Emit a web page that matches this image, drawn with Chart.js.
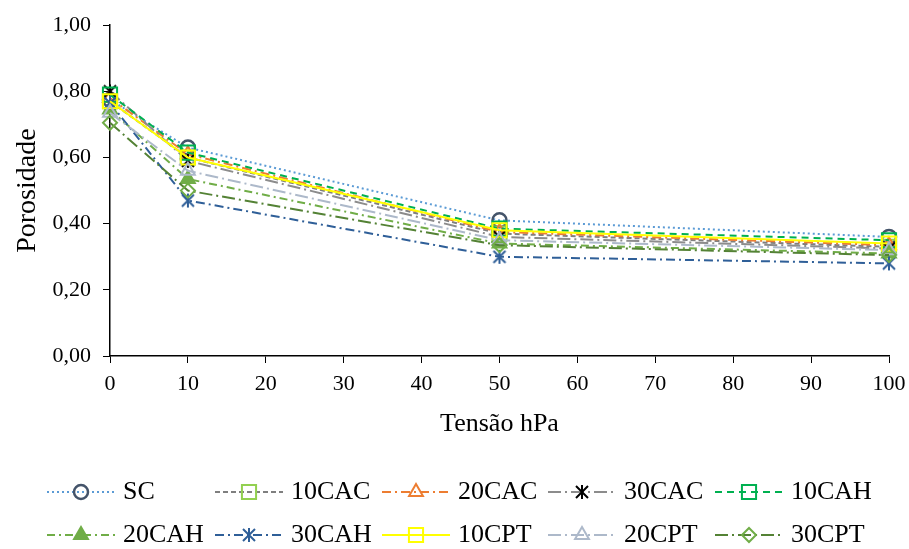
<!DOCTYPE html>
<html>
<head>
<meta charset="utf-8">
<script src="https://cdn.jsdelivr.net/npm/chart.js@4/dist/chart.umd.min.js"></script>
<style>
  html, body { margin: 0; padding: 0; background: #fff; }
  #wrap { width: 909px; height: 549px; }
</style>
</head>
<body>
<div id="wrap"><canvas id="grafico" width="909" height="549"></canvas></div>
<script>
// --- DATOS ---
const tensoes = [0, 10, 50, 100];
const nomes = ['SC', '10CAC', '20CAC', '30CAC', '10CAH', '20CAH', '30CAH', '10CPT', '20CPT', '30CPT'];
const SC      = [0.775, 0.63, 0.41, 0.36];
const CAC10   = [0.77, 0.60, 0.37, 0.33];
const CAC20   = [0.78, 0.61, 0.375, 0.335];
const CAC30   = [0.80, 0.59, 0.36, 0.325];
const CAH10   = [0.79, 0.615, 0.385, 0.35];
const CAH20   = [0.745, 0.535, 0.34, 0.31];
const CAH30   = [0.765, 0.47, 0.30, 0.28];
const CPT10   = [0.77, 0.60, 0.38, 0.34];
const CPT20   = [0.735, 0.56, 0.35, 0.32];
const CPT30   = [0.705, 0.50, 0.335, 0.305];
const yTicks  = [0, 0.2, 0.4, 0.6, 0.8, 1.0];

const FONTE = '"Liberation Serif", "Times New Roman", serif';

// marcador asterisco estilo Excel (X + barra vertical)
function asterisco(cor) {
    const c = document.createElement('canvas');
    c.width = 16; c.height = 16;
    const g = c.getContext('2d');
    g.strokeStyle = cor;
    g.lineWidth = 2;
    g.beginPath();
    g.moveTo(2, 2); g.lineTo(14, 14);
    g.moveTo(14, 2); g.lineTo(2, 14);
    g.moveTo(8, 1); g.lineTo(8, 15);
    g.stroke();
    return c;
}

const vazio = 'rgba(0,0,0,0)';
let ordem = 0;

function serie(label, valores, estilo) {
    ordem++;
    return Object.assign({
        label: label,
        data: valores.map((v, i) => ({ x: tensoes[i], y: v })),
        borderWidth: 2,
        pointBorderWidth: 2,
        pointBackgroundColor: vazio,
        fill: false,
        clip: false,
        tension: 0,
        order: 20 - ordem // las últimas series quedan encima, como en Excel
    }, estilo);
}

const datasets = [
    serie(nomes[0], SC,    { borderColor: '#5B9BD5', borderDash: [2, 3], pointStyle: 'circle', pointRadius: 7, pointBorderColor: '#44546A', pointBorderWidth: 2.5 }),
    serie(nomes[1], CAC10, { borderColor: '#7F7F7F', borderDash: [5, 3], pointStyle: 'rect', pointRadius: 10, pointBorderColor: '#92D050' }),
    serie(nomes[2], CAC20, { borderColor: '#ED7D31', borderDash: [9, 4, 2, 4], pointStyle: 'triangle', pointRadius: 8, pointBorderColor: '#ED7D31' }),
    serie(nomes[3], CAC30, { borderColor: '#8C8C8C', borderDash: [13, 4, 2, 4], pointStyle: asterisco('#000000'), pointBorderColor: '#000000' }),
    serie(nomes[4], CAH10, { borderColor: '#00B050', borderDash: [7, 5], pointStyle: 'rect', pointRadius: 10, pointBorderColor: '#00B050' }),
    serie(nomes[5], CAH20, { borderColor: '#70AD47', borderDash: [8, 4, 2, 4], pointStyle: 'triangle', pointRadius: 8, pointBorderColor: '#70AD47', pointBackgroundColor: '#70AD47' }),
    serie(nomes[6], CAH30, { borderColor: '#2F5F98', borderDash: [9, 4, 2, 4], pointStyle: asterisco('#2F5F98'), pointBorderColor: '#2F5F98' }),
    serie(nomes[7], CPT10, { borderColor: '#FFFF00', pointStyle: 'rect', pointRadius: 10, pointBorderColor: '#FFFF00' }),
    serie(nomes[8], CPT20, { borderColor: '#ADB9CA', borderDash: [13, 4, 2, 4], pointStyle: 'triangle', pointRadius: 8, pointBorderColor: '#ADB9CA' }),
    serie(nomes[9], CPT30, { borderColor: '#548235', borderDash: [13, 4, 2, 4], pointStyle: 'rectRot', pointRadius: 7, pointBorderColor: '#70AD47' })
];

// --- LEGENDA (desenhada no canvas, 5 por linha) ---
const colunasX = [47, 215, 382, 548, 715];
const linhasY = [492, 535];
const legendaExcel = {
    id: 'legendaExcel',
    afterDraw(chart) {
        const ctx = chart.ctx;
        chart.data.datasets.forEach((ds, i) => {
            const x0 = colunasX[i % 5];
            const y = linhasY[Math.floor(i / 5)];
            ctx.save();
            ctx.strokeStyle = ds.borderColor;
            ctx.lineWidth = ds.borderWidth;
            ctx.setLineDash(ds.borderDash || []);
            ctx.beginPath();
            ctx.moveTo(x0, y);
            ctx.lineTo(x0 + 68, y);
            ctx.stroke();
            ctx.setLineDash([]);
            ctx.strokeStyle = ds.pointBorderColor;
            ctx.fillStyle = ds.pointBackgroundColor;
            ctx.lineWidth = ds.pointBorderWidth;
            Chart.helpers.drawPoint(ctx, { pointStyle: ds.pointStyle, radius: ds.pointRadius || 7, rotation: 0, borderWidth: ds.pointBorderWidth }, x0 + 34, y);
            ctx.fillStyle = '#000';
            ctx.font = '26px ' + FONTE;
            ctx.textBaseline = 'middle';
            ctx.fillText(ds.label, x0 + 76, y);
            ctx.restore();
        });
    }
};

new Chart(document.getElementById('grafico'), {
    type: 'line',
    data: { datasets: datasets },
    plugins: [legendaExcel],
    options: {
        responsive: false,
        animation: false,
        layout: { padding: { left: 11, right: 20, top: 25, bottom: 109 } },
        plugins: { legend: { display: false }, tooltip: { enabled: false } },
        scales: {
            x: {
                type: 'linear',
                min: 0, max: 100,
                afterFit: s => { s.height = 84; s.paddingRight = 0; s.paddingLeft = 0; },
                ticks: { stepSize: 10, color: '#000', font: { family: FONTE, size: 22 }, padding: 8, maxRotation: 0 },
                grid: { drawOnChartArea: false, drawTicks: true, tickLength: 7, color: '#000' },
                border: { color: '#000', width: 1.5 },
                title: { display: true, text: 'Tensão hPa', color: '#000', font: { family: FONTE, size: 26 }, padding: 0 }
            },
            y: {
                min: 0, max: 1,
                afterFit: s => { s.width = 99; },
                afterBuildTicks: s => { s.ticks = yTicks.map(v => ({ value: v })); },
                ticks: { color: '#000', font: { family: FONTE, size: 22 }, padding: 12,
                    callback: v => v.toFixed(2).replace('.', ',') },
                grid: { drawOnChartArea: false, drawTicks: true, tickLength: 7, color: '#000' },
                border: { color: '#000', width: 1.5 },
                title: { display: true, text: 'Porosidade', color: '#000', font: { family: FONTE, size: 28 }, padding: 0 }
            }
        }
    }
});
</script>
</body>
</html>
